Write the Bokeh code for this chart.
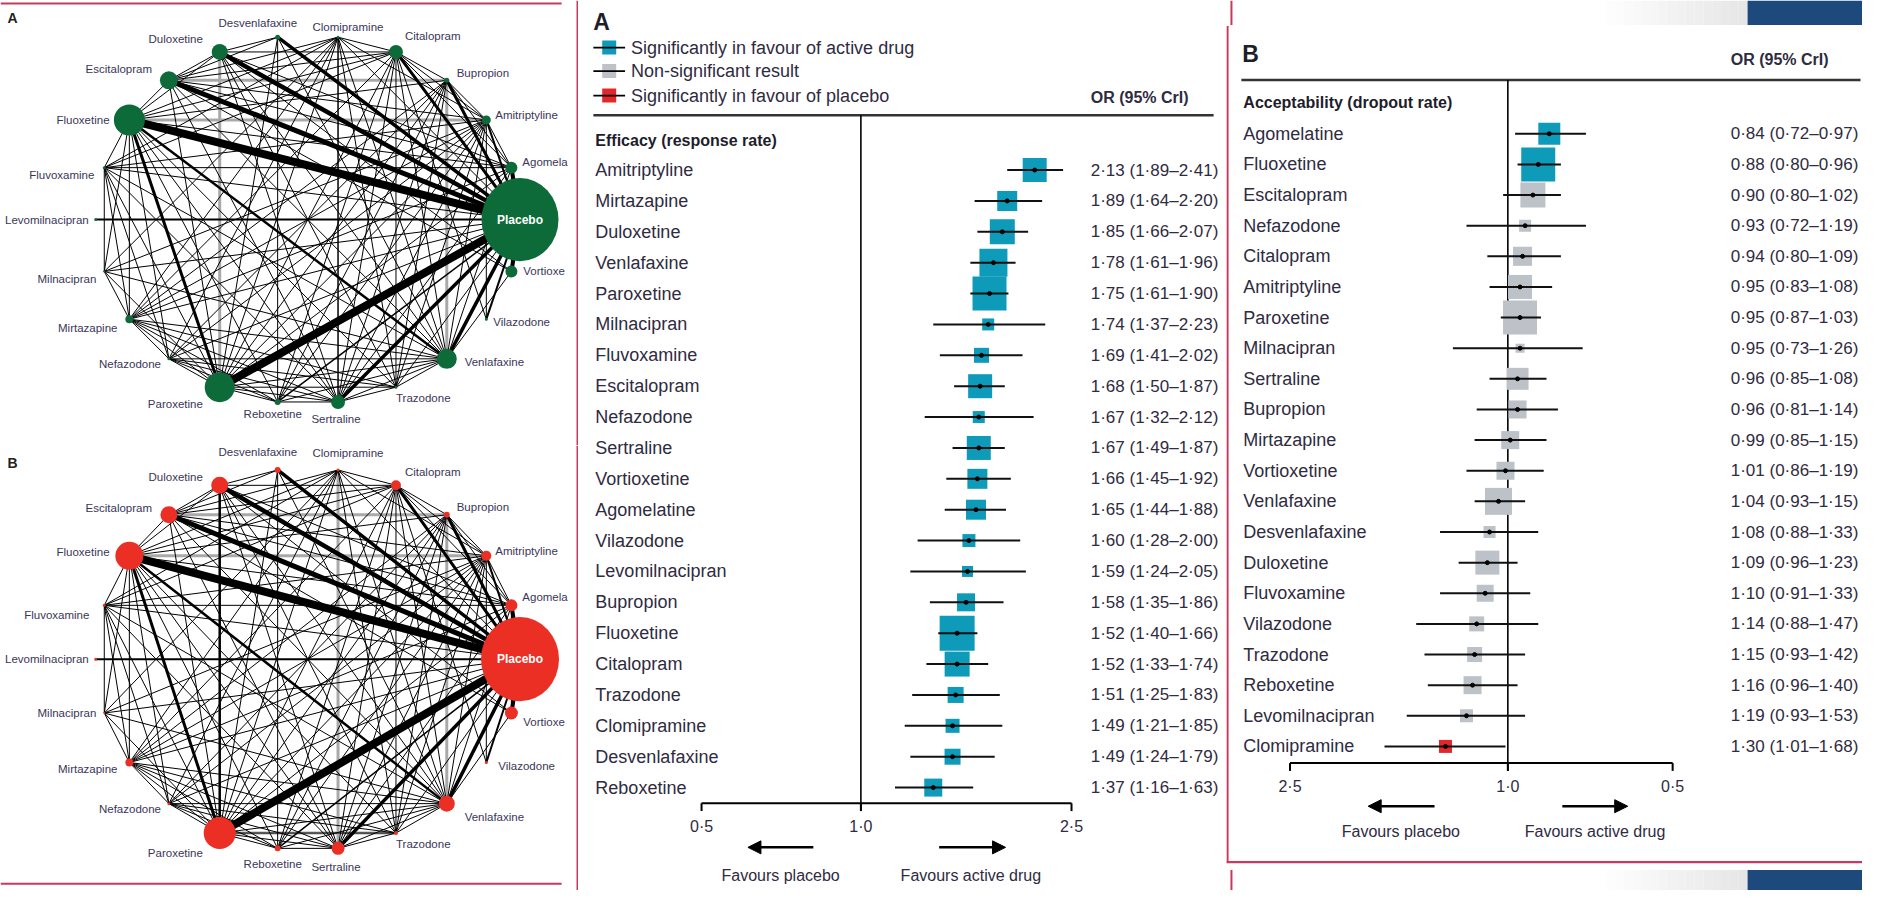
import math
from bokeh.plotting import figure
from bokeh.layouts import row, column
from bokeh.models import Range1d, LinearScale, Arrow, NormalHead
from bokeh.core.properties import value
from bokeh.embed import file_html
from bokeh.resources import INLINE

# ------------------------------------------------------------------ data
net_nodes = ["Placebo", "Vortioxetine", "Vilazodone", "Venlafaxine", "Trazodone",
             "Sertraline", "Reboxetine", "Paroxetine", "Nefazodone", "Mirtazapine",
             "Milnacipran", "Levomilnacipran", "Fluvoxamine", "Fluoxetine",
             "Escitalopram", "Duloxetine", "Desvenlafaxine", "Clomipramine",
             "Citalopram", "Bupropion", "Amitriptyline", "Agomelatine"]
# labels as printed in the figure (two are cut by the panel edge in the original)
net_labels = ["Placebo", "Vortioxe", "Vilazodone", "Venlafaxine", "Trazodone",
              "Sertraline", "Reboxetine", "Paroxetine", "Nefazodone", "Mirtazapine",
              "Milnacipran", "Levomilnacipran", "Fluvoxamine", "Fluoxetine",
              "Escitalopram", "Duloxetine", "Desvenlafaxine", "Clomipramine",
              "Citalopram", "Bupropion", "Amitriptyline", "Agomela"]
net_size_a = [77, 12, 3, 20, 3, 14, 6, 30, 3, 8, 2, 3, 3, 31, 18, 16, 5, 3, 14, 5, 9, 12]
net_size_b = [78, 13, 3, 16, 4, 13, 6, 32, 3, 8, 2, 3, 3, 28, 17, 17, 6, 3, 10, 6, 10, 12]

net_edges = [
    ("Placebo", "Fluoxetine", 8), ("Placebo", "Paroxetine", 8), ("Placebo", "Escitalopram", 5),
    ("Placebo", "Duloxetine", 4.5), ("Placebo", "Desvenlafaxine", 3.5), ("Placebo", "Citalopram", 3),
    ("Placebo", "Bupropion", 3), ("Placebo", "Venlafaxine", 3.5), ("Placebo", "Sertraline", 3.5),
    ("Placebo", "Agomelatine", 4), ("Placebo", "Vortioxetine", 4), ("Placebo", "Amitriptyline", 2),
    ("Placebo", "Levomilnacipran", 2), ("Placebo", "Vilazodone", 2), ("Placebo", "Trazodone", 1),
    ("Placebo", "Mirtazapine", 1), ("Placebo", "Nefazodone", 1), ("Placebo", "Reboxetine", 1.5),
    ("Placebo", "Milnacipran", 1), ("Placebo", "Fluvoxamine", 1), ("Placebo", "Clomipramine", 1),
    ("Fluoxetine", "Paroxetine", 3), ("Fluoxetine", "Venlafaxine", 2.5), ("Fluoxetine", "Sertraline", 1),
    ("Fluoxetine", "Citalopram", 1), ("Fluoxetine", "Escitalopram", 1), ("Fluoxetine", "Duloxetine", 1),
    ("Fluoxetine", "Mirtazapine", 1), ("Fluoxetine", "Fluvoxamine", 1), ("Fluoxetine", "Milnacipran", 1),
    ("Fluoxetine", "Reboxetine", 1), ("Fluoxetine", "Nefazodone", 1), ("Fluoxetine", "Bupropion", 1),
    ("Fluoxetine", "Clomipramine", 1), ("Fluoxetine", "Agomelatine", 1), ("Fluoxetine", "Trazodone", 1),
    ("Paroxetine", "Venlafaxine", 1), ("Paroxetine", "Sertraline", 1), ("Paroxetine", "Citalopram", 1),
    ("Paroxetine", "Escitalopram", 1), ("Paroxetine", "Mirtazapine", 1), ("Paroxetine", "Fluvoxamine", 1),
    ("Paroxetine", "Milnacipran", 1), ("Paroxetine", "Reboxetine", 1), ("Paroxetine", "Nefazodone", 1),
    ("Paroxetine", "Bupropion", 1), ("Paroxetine", "Amitriptyline", 1), ("Paroxetine", "Clomipramine", 1),
    ("Paroxetine", "Agomelatine", 1), ("Paroxetine", "Trazodone", 1), ("Paroxetine", "Desvenlafaxine", 1),
    ("Venlafaxine", "Sertraline", 1), ("Venlafaxine", "Citalopram", 1), ("Venlafaxine", "Escitalopram", 1),
    ("Venlafaxine", "Duloxetine", 1), ("Venlafaxine", "Mirtazapine", 1), ("Venlafaxine", "Fluvoxamine", 1),
    ("Venlafaxine", "Milnacipran", 1), ("Venlafaxine", "Reboxetine", 1), ("Venlafaxine", "Nefazodone", 1),
    ("Venlafaxine", "Amitriptyline", 1), ("Venlafaxine", "Clomipramine", 1), ("Venlafaxine", "Agomelatine", 1),
    ("Venlafaxine", "Trazodone", 1), ("Venlafaxine", "Vortioxetine", 1), ("Venlafaxine", "Desvenlafaxine", 1),
    ("Sertraline", "Citalopram", 1), ("Sertraline", "Escitalopram", 1), ("Sertraline", "Duloxetine", 1),
    ("Sertraline", "Mirtazapine", 1), ("Sertraline", "Fluvoxamine", 1), ("Sertraline", "Reboxetine", 1),
    ("Sertraline", "Nefazodone", 1), ("Sertraline", "Bupropion", 1), ("Sertraline", "Amitriptyline", 1),
    ("Sertraline", "Agomelatine", 1), ("Sertraline", "Trazodone", 1),
    ("Citalopram", "Escitalopram", 1), ("Citalopram", "Duloxetine", 1), ("Citalopram", "Mirtazapine", 1),
    ("Citalopram", "Reboxetine", 1), ("Citalopram", "Amitriptyline", 1), ("Citalopram", "Clomipramine", 1),
    ("Citalopram", "Trazodone", 1), ("Citalopram", "Agomelatine", 1), ("Citalopram", "Fluvoxamine", 1),
    ("Citalopram", "Vilazodone", 1),
    ("Escitalopram", "Duloxetine", 1), ("Escitalopram", "Agomelatine", 1), ("Escitalopram", "Vortioxetine", 1),
    ("Escitalopram", "Desvenlafaxine", 1), ("Escitalopram", "Amitriptyline", 1), ("Escitalopram", "Clomipramine", 1),
    ("Duloxetine", "Desvenlafaxine", 1), ("Duloxetine", "Vortioxetine", 1), ("Duloxetine", "Agomelatine", 1),
    ("Duloxetine", "Trazodone", 1),
    ("Clomipramine", "Amitriptyline", 1), ("Clomipramine", "Fluvoxamine", 1), ("Clomipramine", "Mirtazapine", 1),
    ("Clomipramine", "Trazodone", 1), ("Clomipramine", "Milnacipran", 1), ("Clomipramine", "Nefazodone", 1),
    ("Amitriptyline", "Mirtazapine", 1), ("Amitriptyline", "Fluvoxamine", 1), ("Amitriptyline", "Trazodone", 1),
    ("Amitriptyline", "Nefazodone", 1), ("Amitriptyline", "Bupropion", 1), ("Amitriptyline", "Milnacipran", 1),
    ("Amitriptyline", "Agomelatine", 1), ("Amitriptyline", "Reboxetine", 1), ("Amitriptyline", "Vilazodone", 1),
    ("Mirtazapine", "Trazodone", 1), ("Mirtazapine", "Bupropion", 1), ("Mirtazapine", "Reboxetine", 1),
    ("Mirtazapine", "Agomelatine", 1), ("Mirtazapine", "Nefazodone", 1),
    ("Bupropion", "Trazodone", 1), ("Bupropion", "Citalopram", 1), ("Bupropion", "Nefazodone", 1),
    ("Bupropion", "Agomelatine", 1), ("Bupropion", "Reboxetine", 1),
    ("Fluvoxamine", "Milnacipran", 1), ("Fluvoxamine", "Mirtazapine", 1), ("Fluvoxamine", "Nefazodone", 1),
    ("Fluvoxamine", "Agomelatine", 1), ("Trazodone", "Nefazodone", 1), ("Reboxetine", "Nefazodone", 1),
    ("Agomelatine", "Vortioxetine", 1), ("Milnacipran", "Mirtazapine", 1), ("Desvenlafaxine", "Reboxetine", 1),
]
net_grey_a = [("Escitalopram", "Bupropion"), ("Fluoxetine", "Amitriptyline"),
              ("Duloxetine", "Paroxetine"), ("Bupropion", "Venlafaxine")]
net_grey_b = [("Escitalopram", "Bupropion"), ("Fluoxetine", "Amitriptyline"),
              ("Clomipramine", "Sertraline"), ("Bupropion", "Venlafaxine"),
              ("Paroxetine", "Trazodone")]
net_extra_a = [("Clomipramine", "Sertraline", 1.5)]
net_extra_b = [("Duloxetine", "Paroxetine", 2.5)]

eff_drugs = ["Amitriptyline", "Mirtazapine", "Duloxetine", "Venlafaxine", "Paroxetine",
             "Milnacipran", "Fluvoxamine", "Escitalopram", "Nefazodone", "Sertraline",
             "Vortioxetine", "Agomelatine", "Vilazodone", "Levomilnacipran", "Bupropion",
             "Fluoxetine", "Citalopram", "Trazodone", "Clomipramine", "Desvenlafaxine", "Reboxetine"]
eff_or = [2.13, 1.89, 1.85, 1.78, 1.75, 1.74, 1.69, 1.68, 1.67, 1.67, 1.66, 1.65, 1.60, 1.59,
          1.58, 1.52, 1.52, 1.51, 1.49, 1.49, 1.37]
eff_lo = [1.89, 1.64, 1.66, 1.61, 1.61, 1.37, 1.41, 1.50, 1.32, 1.49, 1.45, 1.44, 1.28, 1.24,
          1.35, 1.40, 1.33, 1.25, 1.21, 1.24, 1.16]
eff_hi = [2.41, 2.20, 2.07, 1.96, 1.90, 2.23, 2.02, 1.87, 2.12, 1.87, 1.92, 1.88, 2.00, 2.05,
          1.86, 1.66, 1.74, 1.83, 1.85, 1.79, 1.63]
eff_weight = [24, 20, 25, 28, 34, 12, 15, 24, 12, 24, 20, 20, 13, 11, 18, 35, 25, 16, 14, 16, 18]
eff_sig = ["active"] * 21

acc_drugs = ["Agomelatine", "Fluoxetine", "Escitalopram", "Nefazodone", "Citalopram",
             "Amitriptyline", "Paroxetine", "Milnacipran", "Sertraline", "Bupropion",
             "Mirtazapine", "Vortioxetine", "Venlafaxine", "Desvenlafaxine", "Duloxetine",
             "Fluvoxamine", "Vilazodone", "Trazodone", "Reboxetine", "Levomilnacipran", "Clomipramine"]
acc_or = [0.84, 0.88, 0.90, 0.93, 0.94, 0.95, 0.95, 0.95, 0.96, 0.96, 0.99, 1.01, 1.04, 1.08,
          1.09, 1.10, 1.14, 1.15, 1.16, 1.19, 1.30]
acc_lo = [0.72, 0.80, 0.80, 0.72, 0.80, 0.83, 0.87, 0.73, 0.85, 0.81, 0.85, 0.86, 0.93, 0.88,
          0.96, 0.91, 0.88, 0.93, 0.96, 0.93, 1.01]
acc_hi = [0.97, 0.96, 1.02, 1.19, 1.09, 1.08, 1.03, 1.26, 1.08, 1.14, 1.15, 1.19, 1.15, 1.33,
          1.23, 1.33, 1.47, 1.42, 1.40, 1.53, 1.68]
acc_weight = [22, 34, 25, 12, 19, 24, 34, 9, 22, 18, 18, 18, 27, 12, 24, 17, 15, 15, 18, 13, 13]
acc_sig = ["active", "active"] + ["ns"] * 18 + ["placebo"]

legend_keys = ["active", "ns", "placebo"]
legend_labels = ["Significantly in favour of active drug", "Non-significant result",
                 "Significantly in favour of placebo"]
ticks_a = [0.5, 1.0, 2.5]
ticks_b = [2.5, 1.0, 0.5]

# ------------------------------------------------------------------ styles
SIG_COL = {"active": "#0e9ab9", "ns": "#bcc2c8", "placebo": "#e3262c"}
TXT = "#2f2b40"
NET_TXT = "#3a3658"
BORDER = "#c8385f"
NAVY = "#1e497c"
FONT = value("Liberation Sans")
SX = 1862 / 1879
SY = 890 / 908


def dotted(v, n=2):
    return f"{v:.{n}f}".replace(".", "·")


def base_fig(x0, x1, y0, y1, **kw):
    p = figure(width=round((x1 - x0) * SX), height=round((y1 - y0) * SY),
               output_backend="svg", toolbar_location=None,
               x_axis_location=None, y_axis_location=None, min_border=0,
               outline_line_color=None, background_fill_color="white",
               border_fill_color="white", **kw)
    p.grid.visible = False
    return p


# ------------------------------------------------------------------ network
LABEL_OFF_A = {
    "Placebo": (0, 0, "center"), "Vortioxetine": (12, 0, "left"), "Vilazodone": (7, 3, "left"),
    "Venlafaxine": (18, 3, "left"), "Trazodone": (0, 11, "left"), "Sertraline": (-2, 17, "center"),
    "Reboxetine": (-5, 12, "center"), "Paroxetine": (-17, 17, "right"), "Nefazodone": (-8, 5, "right"),
    "Mirtazapine": (-12, 9, "right"), "Milnacipran": (-8, 8, "right"),
    "Levomilnacipran": (-7, 0, "right"), "Fluvoxamine": (-10, 7, "right"),
    "Fluoxetine": (-20, 0, "right"), "Escitalopram": (-17, -12, "right"),
    "Duloxetine": (-17, -13, "right"), "Desvenlafaxine": (-20, -14, "center"),
    "Clomipramine": (10, -10, "center"), "Citalopram": (9, -16, "left"),
    "Bupropion": (10, -7, "left"), "Amitriptyline": (9, -5, "left"), "Agomelatine": (11, -6, "left"),
}
LABEL_OFF_B = dict(LABEL_OFF_A)
LABEL_OFF_B.update({
    "Vortioxetine": (12, 9, "left"), "Vilazodone": (12, 4, "left"), "Venlafaxine": (18, 14, "left"),
    "Sertraline": (-2, 19, "center"), "Reboxetine": (-5, 16, "center"),
    "Paroxetine": (-17, 20, "right"), "Mirtazapine": (-12, 7, "right"),
    "Milnacipran": (-8, 0, "right"), "Fluvoxamine": (-15, 10, "right"),
    "Fluoxetine": (-20, -4, "right"), "Escitalopram": (-17, -7, "right"),
    "Duloxetine": (-17, -8, "right"), "Desvenlafaxine": (-20, -18, "center"),
    "Clomipramine": (10, -17, "center"), "Citalopram": (9, -14, "left"),
    "Bupropion": (10, -8, "left"), "Agomelatine": (11, -9, "left"),
})


def network(letter, y0, cy, ry, sizes, node_col, grey_edges, extra_edges, offs,
            top_line, bottom_line):
    W, H = 583, 454
    p = base_fig(0, W, y0, y0 + H, x_range=Range1d(0, W), y_range=Range1d(y0 + H, y0))
    cx, rx = 310, 214
    n = len(net_nodes)
    pos = {}
    for i, name in enumerate(net_nodes):
        th = 2 * math.pi * i / n
        pos[name] = (cx + rx * math.cos(th), cy + ry * math.sin(th))
    p.segment(x0=[pos[a][0] for a, b in grey_edges], y0=[pos[a][1] for a, b in grey_edges],
              x1=[pos[b][0] for a, b in grey_edges], y1=[pos[b][1] for a, b in grey_edges],
              line_color="#a9a9a9", line_width=3)
    edges = net_edges + extra_edges
    p.segment(x0=[pos[a][0] for a, b, w in edges], y0=[pos[a][1] for a, b, w in edges],
              x1=[pos[b][0] for a, b, w in edges], y1=[pos[b][1] for a, b, w in edges],
              line_width=[w for a, b, w in edges], line_color="black")
    others = [k for k in net_nodes if k != "Placebo"]
    p.scatter(x=[pos[k][0] for k in others], y=[pos[k][1] for k in others],
              size=[s for k, s in zip(net_nodes, sizes) if k != "Placebo"], marker="circle",
              fill_color=node_col, line_color=None)
    ps = sizes[net_nodes.index("Placebo")]
    p.ellipse(x=[pos["Placebo"][0]], y=[pos["Placebo"][1]], width=ps, height=ps * 1.08,
              width_units="screen", height_units="screen", fill_color=node_col, line_color=None)
    lab = dict(zip(net_nodes, net_labels))
    for al in ("left", "center", "right"):
        names = [k for k in net_nodes if offs[k][2] == al and k != "Placebo"]
        p.text(x=[pos[k][0] + offs[k][0] for k in names],
               y=[pos[k][1] + offs[k][1] for k in names], text=[lab[k] for k in names],
               text_align=al, text_baseline="middle", text_font=FONT,
               text_font_size="11.5px", text_color=NET_TXT)
    p.text(x=[pos["Placebo"][0]], y=[pos["Placebo"][1]], text=[lab["Placebo"]], text_align="center",
           text_baseline="middle", text_font=FONT, text_font_size="12px",
           text_font_style="bold", text_color="white")
    p.text(x=[7], y=[y0 + 18], text=[letter], text_font=FONT, text_font_size="14px",
           text_font_style="bold", text_color="#222", text_baseline="middle")
    p.segment(x0=[582], x1=[582], y0=[y0], y1=[y0 + H], line_color=BORDER, line_width=2)
    if top_line is not None:
        p.segment(x0=[0], x1=[566], y0=[top_line], y1=[top_line], line_color=BORDER, line_width=2)
    if bottom_line is not None:
        p.segment(x0=[0], x1=[566], y0=[bottom_line], y1=[bottom_line], line_color=BORDER, line_width=2)
    return p


net_a = network("A", 0, 223.5, 188, net_size_a, "#0c6b38", net_grey_a, net_extra_a,
                LABEL_OFF_A, 3, None)
net_b = network("B", 454, 672, 195, net_size_b, "#ec2f25", net_grey_b, net_extra_b,
                LABEL_OFF_B, None, 901)


# ------------------------------------------------------------------ forest plots
def forest(X0, X1, one_x, ppu, reverse, row0, drow, drugs, ors, los, his, wts, sigs, ticks, cfg):
    if not reverse:
        xr = Range1d(math.exp((X0 - one_x) / ppu), math.exp((X1 - one_x) / ppu))
    else:
        xr = Range1d(math.exp((one_x - X0) / ppu), math.exp((one_x - X1) / ppu))
    yr = Range1d((908 - row0) / drow, (0 - row0) / drow)
    p = base_fig(X0, X1, 0, 908, x_range=xr, y_range=yr, x_axis_type="log")
    p.extra_x_ranges = {"px": Range1d(X0, X1)}
    p.extra_x_scales = {"px": LinearScale()}
    p.extra_y_ranges = {"px": Range1d(908, 0)}
    p.extra_y_scales = {"px": LinearScale()}
    rows = list(range(len(drugs)))

    p.text(x=[cfg["letter_xy"][0]], y=[cfg["letter_xy"][1]], text=[cfg["letter"]],
           x_range_name="px", y_range_name="px", text_font=FONT, text_font_size="23px",
           text_font_style="bold", text_color="#1d1d2b", text_baseline="middle")
    p.text(x=[cfg["val_x"]], y=[cfg["or_y"]], text=["OR (95% CrI)"], x_range_name="px",
           y_range_name="px", text_font=FONT, text_font_size="16px", text_font_style="bold",
           text_color=TXT, text_baseline="middle")
    p.segment(x0=[cfg["rule"][0]], x1=[cfg["rule"][1]], y0=[cfg["rule_y"]], y1=[cfg["rule_y"]],
              x_range_name="px", y_range_name="px", line_color="#333", line_width=2.5)
    p.text(x=[cfg["lab_x"]], y=[cfg["head_y"]], text=[cfg["heading"]], x_range_name="px",
           y_range_name="px", text_font=FONT, text_font_size="16px", text_font_style="bold",
           text_color="#1d1d2b", text_baseline="middle")
    if cfg.get("legend_y"):
        ly = cfg["legend_y"]
        p.scatter(x=[614] * 3, y=ly, size=14, marker="square", x_range_name="px",
                  y_range_name="px", fill_color=[SIG_COL[k] for k in legend_keys], line_color=None)
        p.segment(x0=[598] * 3, x1=[630] * 3, y0=ly, y1=ly, x_range_name="px", y_range_name="px",
                  line_color="black", line_width=1.8)
        p.text(x=[636] * 3, y=ly, text=legend_labels, x_range_name="px", y_range_name="px",
               text_font=FONT, text_font_size="18px", text_color=TXT, text_baseline="middle")

    p.segment(x0=[1.0], x1=[1.0], y0=[cfg["rule_y"]], y1=[cfg["axis_y"] + 8], y_range_name="px",
              line_color="black", line_width=1.6)

    p.text(x=[cfg["lab_x"]] * len(drugs), y=rows, text=drugs, x_range_name="px",
           text_font=FONT, text_font_size="18px", text_color=TXT, text_baseline="middle")
    vals = [f"{dotted(o)} ({dotted(l)}–{dotted(h)})" for o, l, h in zip(ors, los, his)]
    p.text(x=[cfg["val_x"]] * len(drugs), y=rows, text=vals, x_range_name="px",
           text_font=FONT, text_font_size="17px", text_color=TXT, text_baseline="middle")
    p.scatter(x=ors, y=rows, size=wts, marker="square",
              fill_color=[SIG_COL[s] for s in sigs], line_color=None)
    p.segment(x0=los, x1=his, y0=rows, y1=rows, line_color="#111", line_width=2)
    p.scatter(x=ors, y=rows, size=4, marker="circle", color="black")

    ay = cfg["axis_y"]
    p.segment(x0=[ticks[0]], x1=[ticks[-1]], y0=[ay], y1=[ay], y_range_name="px",
              line_color="black", line_width=2)
    p.segment(x0=ticks, x1=ticks, y0=[ay] * len(ticks), y1=[ay + 8] * len(ticks),
              y_range_name="px", line_color="black", line_width=2)
    p.text(x=ticks, y=[ay + 24] * len(ticks), text=[dotted(t, 1) for t in ticks],
           y_range_name="px", text_font=FONT, text_font_size="16px", text_color=TXT,
           text_align="center", text_baseline="middle")
    for (xs, xe) in cfg["arrows"]:
        p.add_layout(Arrow(x_start=xs, y_start=cfg["arrow_y"], x_end=xe, y_end=cfg["arrow_y"],
                           line_width=2.5, line_color="black",
                           end=NormalHead(size=13, fill_color="black", line_color="black"),
                           x_range_name="px", y_range_name="px"))
    p.text(x=cfg["fav_x"], y=[cfg["fav_y"]] * 2, text=["Favours placebo", "Favours active drug"],
           x_range_name="px", y_range_name="px", text_font=FONT, text_font_size="16px",
           text_color=TXT, text_align="center", text_baseline="middle")
    return p


cfg_a = dict(letter="A", letter_xy=(598, 22), val_x=1100, or_y=99, rule=(598, 1224), rule_y=117,
             lab_x=600, head_y=143, heading="Efficacy (response rate)", legend_y=[48, 72, 97],
             axis_y=819, arrows=[(820, 754), (947, 1014)], arrow_y=864,
             fav_x=[787, 979], fav_y=893)
forest_a = forest(583, 1237, 868, 232, False, 173, 31.5, eff_drugs, eff_or, eff_lo, eff_hi,
                  eff_weight, eff_sig, ticks_a, cfg_a)

cfg_b = dict(letter="B", letter_xy=(1253, 55), val_x=1746, or_y=60, rule=(1252, 1877), rule_y=81,
             lab_x=1254, head_y=104, heading="Acceptability (dropout rate)",
             axis_y=778, arrows=[(1447, 1380), (1576, 1642)], arrow_y=822,
             fav_x=[1413, 1609], fav_y=848)
forest_b = forest(1237, 1879, 1521, 240, True, 136, 31.25, acc_drugs, acc_or, acc_lo, acc_hi,
                  acc_weight, acc_sig, ticks_b, cfg_b)

fb = forest_b
fb.segment(x0=[1238], x1=[1238], y0=[26], y1=[880], x_range_name="px", y_range_name="px",
           line_color=BORDER, line_width=2.2)
fb.segment(x0=[1237], x1=[1879], y0=[879], y1=[879], x_range_name="px", y_range_name="px",
           line_color=BORDER, line_width=2.2)
steps = 16
g_left = [1620 + (1763 - 1620) * k / steps for k in range(steps)]
g_right = [1620 + (1763 - 1620) * (k + 1) / steps for k in range(steps)]
g_cols = []
for k in range(steps):
    v = int(round(255 - (255 - 230) * (k + 1) / steps))
    g_cols.append(f"#{v:02x}{v:02x}{v:02x}")
for (yt, yb) in [(0, 25), (887, 908)]:
    fb.quad(left=g_left, right=g_right, top=[yt] * steps, bottom=[yb] * steps,
            fill_color=g_cols, line_color=None, x_range_name="px", y_range_name="px")
    fb.quad(left=[1763], right=[1879], top=[yt], bottom=[yb], fill_color=NAVY, line_color=None,
            x_range_name="px", y_range_name="px")
    fb.segment(x0=[1242], x1=[1242], y0=[yt], y1=[yb], line_color=BORDER, line_width=2,
               x_range_name="px", y_range_name="px")

layout = row(column(net_a, net_b), forest_a, forest_b)
open("out.html", "w").write(file_html(layout, INLINE))
